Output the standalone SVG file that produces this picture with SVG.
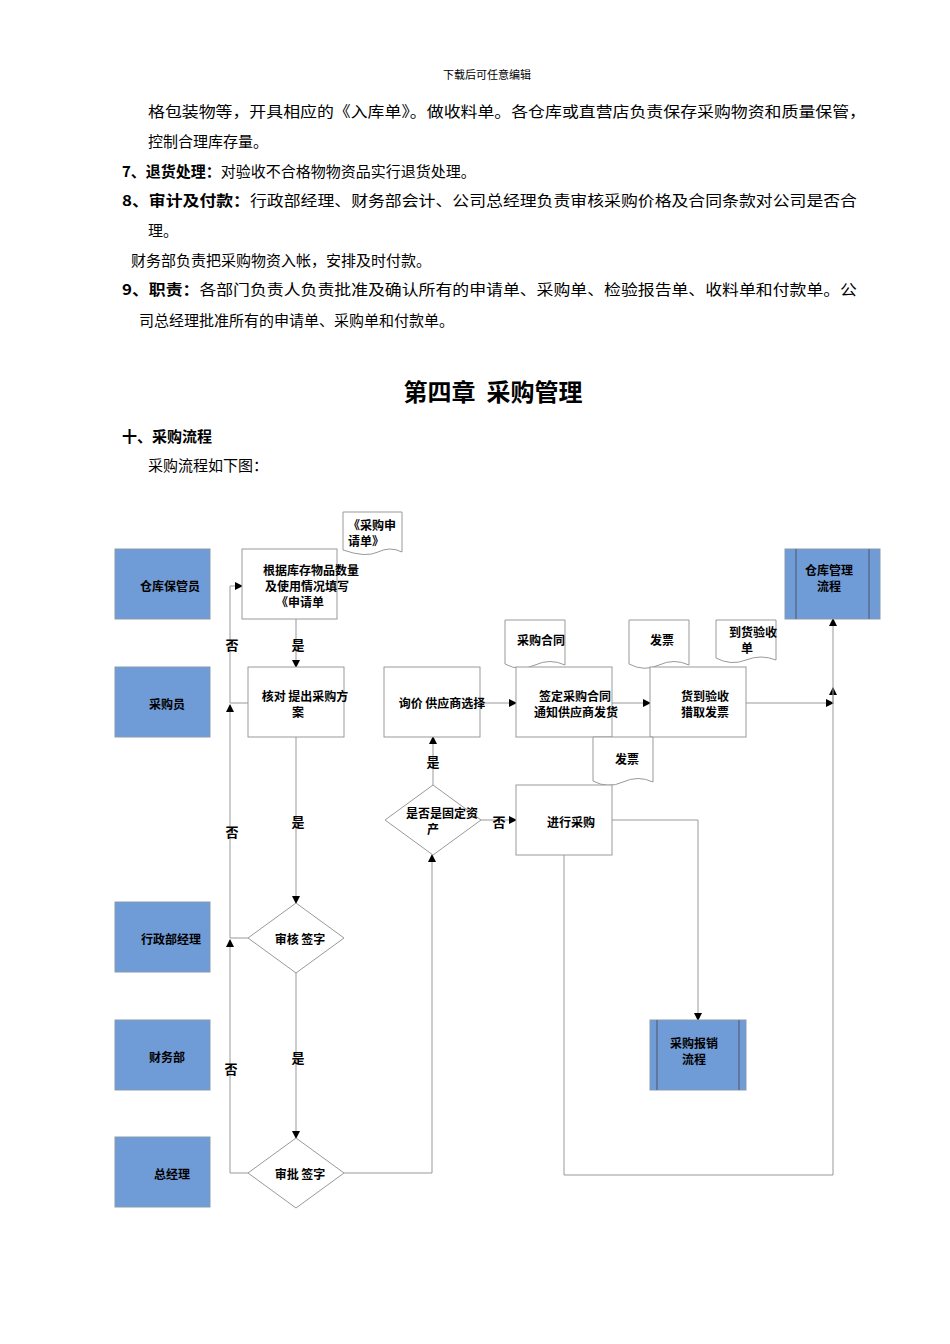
<svg xmlns="http://www.w3.org/2000/svg" width="950" height="1344" viewBox="0 0 950 1344">
<defs>
<marker id="ar" markerWidth="8" markerHeight="8" refX="7" refY="4" orient="auto" markerUnits="userSpaceOnUse"><path d="M0,0 L8,4 L0,8 Z" fill="#000"/></marker>
<style>
text{font-family:"Noto Sans CJK SC","Liberation Sans",sans-serif;fill:#000}
.p{font-size:15px}
.b{font-weight:bold}
.role rect{fill:#6f9bd6;stroke:#8a9bb0;stroke-width:1}
.box rect,.doc path,.dia polygon{fill:#fff;stroke:#999;stroke-width:1}
.sub rect{fill:#6f9bd6;stroke:#8a9bb0}
.sub line{stroke:#556;stroke-width:1}
.n{font-size:12px;font-weight:bold;text-anchor:middle}
.c path{fill:none;stroke:#999;stroke-width:1}
.c .a{marker-end:url(#ar)}
.lb{font-size:13px;font-weight:bold;text-anchor:middle}
</style>
</defs>
<rect width="950" height="1344" fill="#fff"/>
<text x="487" y="79" font-size="11" text-anchor="middle">下载后可任意编辑</text>
<text class="p" x="148" y="117" textLength="718" lengthAdjust="spacingAndGlyphs">格包装物等，开具相应的《入库单》。做收料单。各仓库或直营店负责保存采购物资和质量保管，</text>
<text class="p" x="148" y="147">控制合理库存量。</text>
<text class="p" x="122" y="177"><tspan class="b">7、退货处理：</tspan>对验收不合格物物资品实行退货处理。</text>
<text class="p" x="122" y="206" textLength="735" lengthAdjust="spacingAndGlyphs"><tspan class="b">8、审计及付款：</tspan>行政部经理、财务部会计、公司总经理负责审核采购价格及合同条款对公司是否合</text>
<text class="p" x="148" y="236">理。</text>
<text class="p" x="131" y="266">财务部负责把采购物资入帐，安排及时付款。</text>
<text class="p" x="122" y="295" textLength="735" lengthAdjust="spacingAndGlyphs"><tspan class="b">9、职责：</tspan>各部门负责人负责批准及确认所有的申请单、采购单、检验报告单、收料单和付款单。公</text>
<text class="p" x="139" y="326">司总经理批准所有的申请单、采购单和付款单。</text>
<text x="493" y="401" font-size="24" font-weight="bold" text-anchor="middle" xml:space="preserve">第四章  采购管理</text>
<text class="p b" x="122" y="442">十、采购流程</text>
<text class="p" x="148" y="471">采购流程如下图：</text>

<g id="connectors" class="c">
<path class="a" d="M296,619 V667"/>
<path class="a" d="M296,737 V903"/>
<path class="a" d="M296,973 V1138"/>
<path class="a" d="M248,703 H230 V586 H242"/>
<path class="a" d="M248,938 H230 V705"/>
<path class="a" d="M248,1173 H230 V940"/>
<path class="a" d="M344,1173 H432 V855"/>
<path class="a" d="M433,785 V737"/>
<path class="a" d="M481,820 H516"/>
<path class="a" d="M480,703 H516"/>
<path class="a" d="M612,703 H650"/>
<path class="a" d="M746,703 H833"/>
<path class="a" d="M833,703 V688"/>
<path class="a" d="M612,820 H698 V1020"/>
<path class="a" d="M564,855 V1175 H833 V619"/>
<text class="lb" x="298" y="650">是</text>
<text class="lb" x="298" y="827">是</text>
<text class="lb" x="298" y="1063">是</text>
<text class="lb" x="232" y="650">否</text>
<text class="lb" x="232" y="837">否</text>
<text class="lb" x="231" y="1074">否</text>
<text class="lb" x="433" y="767">是</text>
<text class="lb" x="499" y="827">否</text>
</g>

<g id="role1" class="role"><rect x="115" y="549" width="95" height="70"/><text class="n" x="170" y="591">仓库保管员</text></g>
<g id="role2" class="role"><rect x="115" y="667" width="95" height="70"/><text class="n" x="167" y="709">采购员</text></g>
<g id="role3" class="role"><rect x="115" y="902" width="95" height="70"/><text class="n" x="171" y="944">行政部经理</text></g>
<g id="role4" class="role"><rect x="115" y="1020" width="95" height="70"/><text class="n" x="167" y="1062">财务部</text></g>
<g id="role5" class="role"><rect x="115" y="1137" width="95" height="70"/><text class="n" x="172" y="1179">总经理</text></g>

<g id="fill" class="box"><rect x="242" y="549" width="95" height="70"/><text class="n" x="311" y="575">根据库存物品数量</text><text class="n" x="307" y="591">及使用情况填写</text><text class="n" x="300" y="607">《申请单</text></g>
<g id="docReq" class="doc"><path d="M343,512 H402 V552 Q390,546 378,552 T343,550 Z"/><text x="348" y="530" font-size="12" font-weight="bold">《采购申</text><text x="348" y="546" font-size="12" font-weight="bold">请单》</text></g>
<g id="check" class="box"><rect x="248" y="667" width="96" height="70"/><text class="n" x="305" y="701">核对 提出采购方</text><text class="n" x="298" y="717">案</text></g>
<g id="inquire" class="box"><rect x="384" y="667" width="96" height="70"/><text class="n" x="442" y="708">询价 供应商选择</text></g>
<g id="docContract" class="doc"><path d="M505,620 H565 V665 Q550,658 535,665 T505,664 Z"/><text class="n" x="541" y="645">采购合同</text></g>
<g id="docInv1" class="doc"><path d="M629,620 H689 V665 Q674,658 659,665 T629,664 Z"/><text class="n" x="662" y="645">发票</text></g>
<g id="docRecv" class="doc"><path d="M716,620 H776 V660 Q761,654 746,660 T716,658 Z"/><text class="n" x="753" y="637">到货验收</text><text class="n" x="747" y="653">单</text></g>
<g id="sign" class="box"><rect x="516" y="667" width="96" height="70"/><text class="n" x="575" y="701">签定采购合同</text><text class="n" x="576" y="717">通知供应商发货</text></g>
<g id="arrive" class="box"><rect x="650" y="667" width="96" height="70"/><text class="n" x="705" y="701">货到验收</text><text class="n" x="705" y="717">猎取发票</text></g>
<g id="docInv2" class="doc"><path d="M593,737 H653 V782 Q638,775 623,782 T593,781 Z"/><text class="n" x="627" y="764">发票</text></g>
<g id="fixed" class="dia"><polygon points="433,785 481,820 433,855 385,820"/><text class="n" x="442" y="818">是否是固定资</text><text class="n" x="433" y="834">产</text></g>
<g id="buy" class="box"><rect x="516" y="785" width="96" height="70"/><text class="n" x="571" y="827">进行采购</text></g>
<g id="review" class="dia"><polygon points="296,903 344,938 296,973 248,938"/><text class="n" x="300" y="944">审核 签字</text></g>
<g id="approve" class="dia"><polygon points="296,1138 344,1173 296,1208 248,1173"/><text class="n" x="300" y="1179">审批 签字</text></g>
<g id="warehouse" class="sub"><rect x="785" y="549" width="95" height="70"/><line x1="796" y1="549" x2="796" y2="619"/><line x1="869" y1="549" x2="869" y2="619"/><text class="n" x="829" y="575">仓库管理</text><text class="n" x="829" y="591">流程</text></g>
<g id="reimburse" class="sub"><rect x="650" y="1020" width="96" height="70"/><line x1="657" y1="1020" x2="657" y2="1090"/><line x1="739" y1="1020" x2="739" y2="1090"/><text class="n" x="694" y="1048">采购报销</text><text class="n" x="694" y="1064">流程</text></g>
</svg>
